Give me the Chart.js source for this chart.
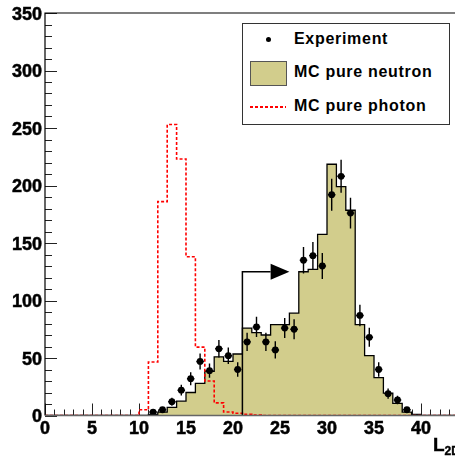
<!DOCTYPE html>
<html lang="en">
<head>
<meta charset="UTF-8">
<title>L2D distribution</title>
<script src="https://cdn.jsdelivr.net/npm/chart.js"></script>
<style>
  html, body { margin: 0; padding: 0; background: #fff; width: 455px; height: 462px; overflow: hidden; }
  body { font-family: 'Liberation Sans', Arial, Helvetica, sans-serif; }
  #wrap { position: relative; width: 480px; height: 462px; }
  #legend { position: absolute; left: 242px; top: 23px; width: 206px; height: 100px; border: 1px solid #333; background: #fff; }
  .item { position: absolute; left: 51px; height: 20px; line-height: 20px; font-size: 16px; letter-spacing: 0.7px; font-weight: bold; color: #000; white-space: nowrap; }
  .dot { position: absolute; left: 23px; top: 13px; width: 5px; height: 5px; border-radius: 50%; background: #000; }
  .swatch { position: absolute; left: 7px; top: 37px; width: 35px; height: 23px; background: #d2cd8c; border: 1px solid #555; }
  .dash { position: absolute; left: 7px; top: 82px; width: 36px; height: 1.5px; background: repeating-linear-gradient(to right, #ff0000 0 3px, transparent 3px 5px); }
  #xtitle { position: absolute; left: 433px; top: 434px; font-size: 19px; font-weight: bold; color: #000; -webkit-text-stroke: 0.4px #000; }
  #xtitle sub { font-size: 12px; vertical-align: -4px; }
  .tick { position: absolute; font-size: 18px; line-height: 18px; font-weight: bold; color: #000; white-space: nowrap; -webkit-text-stroke: 0.5px #000; }
  .ytick { width: 40px; text-align: right; }
  .xtick { width: 40px; text-align: center; }
</style>
</head>
<body>
<div id="wrap">
  <canvas id="histChart" width="480" height="462" style="width:480px;height:462px"></canvas>
  <div id="ticks"></div>
  <div id="legend">
    <div class="dot"></div>
    <div class="item" style="top:5px">Experiment</div>
    <div class="swatch"></div>
    <div class="item" style="top:38px">MC pure neutron</div>
    <div class="dash"></div>
    <div class="item" style="top:72px">MC pure photon</div>
  </div>
  <div id="xtitle">L<sub>2D</sub></div>
</div>

<script>
// bin low edges (width 1)
const binLow = [0, 1, 2, 3, 4, 5, 6, 7, 8, 9, 10, 11, 12, 13, 14, 15, 16, 17, 18, 19, 20, 21,
                22, 23, 24, 25, 26, 27, 28, 29, 30, 31, 32, 33, 34, 35, 36, 37, 38, 39, 40, 41, 42, 43, 44];

const mcNeutron = [0, 0, 0, 0, 0, 0, 0, 0, 0, 0, 0, 1, 3, 7, 12.5, 20, 28, 38.5, 51, 47, 53.5, 76,
                   72, 70, 79, 79, 89, 125, 127, 157.5, 218.5, 199, 178.5, 79, 52, 33, 19.5, 10.5, 3, 1, 0, 0, 0, 0, 0];

const mcPhoton = [0, 0, 0, 0, 0, 0, 0, 0, 0, 0, 5, 46.5, 186, 253, 223, 138, 59.5, 30, 11, 3, 2, 1,
                  0.5, 0, 0, 0, 0, 0, 0, 0, 0, 0, 0, 0, 0, 0, 0, 0, 0, 0, 0, 0, 0, 0, 0];

// experiment: bin centres, counts and errors
const expX = [11.5, 12.5, 13.5, 14.5, 15.5, 16.5, 17.5, 18.5, 19.5, 20.5, 21.5, 22.5, 23.5, 24.5,
              25.5, 26.5, 27.5, 28.5, 29.5, 30.5, 31.5, 32.5, 33.5, 34.5, 35.5, 36.5, 37.5, 38.5];
const expY = [3, 5, 12, 22, 32, 47, 39, 58, 52, 40, 64, 77, 64, 57,
              76, 75, 135, 139, 130, 192, 208, 176, 87, 68, 40, 19, 13.5, 5];
const expErr = [1.7, 2.2, 3.5, 4.7, 5.7, 6.9, 6.2, 7.6, 7.2, 6.3, 8, 8.8, 8, 7.5,
                8.7, 8.7, 11.6, 11.8, 11.4, 13.9, 14.4, 13.3, 9.3, 8.2, 6.3, 4.4, 3.7, 2.2];

// tick labels
const xTickLabels = [0, 5, 10, 15, 20, 25, 30, 35, 40];
const yTickLabels = [0, 50, 100, 150, 200, 250, 300, 350];

// selection cut arrow
const cutValue = 21;
const arrowLevel = 125;
const arrowShaftEnd = 24;
const arrowTip = 26;

function histPoints(values) {
    const pts = values.map((v, i) => ({ x: binLow[i], y: v }));
    pts.push({ x: binLow[binLow.length - 1] + 1, y: values[values.length - 1] });
    return pts;
}

const axisDecor = {
    id: 'axisDecor',
    beforeDatasetsDraw(chart) {
        const { ctx, chartArea: a, scales: { x, y } } = chart;
        ctx.save();
        ctx.strokeStyle = '#222';
        ctx.lineWidth = 1;
        for (let v = 0; v <= 350; v += 10) {
            const py = Math.round(y.getPixelForValue(v)) + 0.5;
            const len = v % 50 === 0 ? 12 : 7;
            ctx.beginPath(); ctx.moveTo(a.left, py); ctx.lineTo(a.left + len, py); ctx.stroke();
        }
        for (let v = 0; v <= 45; v += 1) {
            const px = Math.round(x.getPixelForValue(v)) + 0.5;
            const len = v % 5 === 0 ? 12 : 6;
            ctx.beginPath(); ctx.moveTo(px, a.bottom); ctx.lineTo(px, a.bottom - len); ctx.stroke();
        }
        ctx.restore();
    },
    afterDatasetsDraw(chart) {
        const { ctx, chartArea: a, scales: { x, y } } = chart;
        ctx.save();
        // error bars
        ctx.strokeStyle = '#000';
        ctx.lineWidth = 1.4;
        expX.forEach((cx, i) => {
            const px = x.getPixelForValue(cx);
            ctx.beginPath();
            ctx.moveTo(px, y.getPixelForValue(expY[i] - expErr[i]));
            ctx.lineTo(px, y.getPixelForValue(expY[i] + expErr[i]));
            ctx.moveTo(x.getPixelForValue(cx - 0.4), y.getPixelForValue(expY[i]));
            ctx.lineTo(x.getPixelForValue(cx + 0.4), y.getPixelForValue(expY[i]));
            ctx.stroke();
        });
        // cut arrow
        const cx = x.getPixelForValue(cutValue);
        const ay = y.getPixelForValue(arrowLevel);
        ctx.lineWidth = 1.5;
        ctx.beginPath();
        ctx.moveTo(cx, y.getPixelForValue(0));
        ctx.lineTo(cx, ay);
        ctx.lineTo(x.getPixelForValue(arrowShaftEnd), ay);
        ctx.stroke();
        ctx.fillStyle = '#000';
        ctx.beginPath();
        ctx.moveTo(x.getPixelForValue(arrowShaftEnd), ay - 8);
        ctx.lineTo(x.getPixelForValue(arrowTip), ay);
        ctx.lineTo(x.getPixelForValue(arrowShaftEnd), ay + 8);
        ctx.closePath();
        ctx.fill();
        // frame
        ctx.strokeStyle = '#000';
        ctx.lineWidth = 1.2;
        ctx.beginPath();
        ctx.moveTo(a.right + 20, a.top);
        ctx.lineTo(a.left, a.top);
        ctx.lineTo(a.left, a.bottom);
        ctx.stroke();
        ctx.strokeStyle = '#666';
        ctx.lineWidth = 1.5;
        ctx.beginPath();
        ctx.moveTo(a.left, a.bottom);
        ctx.lineTo(a.right + 20, a.bottom);
        ctx.stroke();
        ctx.restore();
    },
    // bold tick labels as text placed from the chart's own scales
    afterRender(chart) {
        const box = document.getElementById('ticks');
        if (box.childElementCount) return;
        const { chartArea: a, scales: { x, y } } = chart;
        yTickLabels.forEach(v => {
            const d = document.createElement('div');
            d.className = 'tick ytick';
            d.textContent = v;
            d.style.left = (a.left - 43) + 'px';
            d.style.top = (y.getPixelForValue(v) - 8.5) + 'px';
            box.appendChild(d);
        });
        xTickLabels.forEach(v => {
            const d = document.createElement('div');
            d.className = 'tick xtick';
            d.textContent = v;
            d.style.left = (x.getPixelForValue(v) - 20) + 'px';
            d.style.top = (a.bottom + 3.5) + 'px';
            box.appendChild(d);
        });
    }
};

const ctx = document.getElementById('histChart').getContext('2d');
const histChart = new Chart(ctx, {
    type: 'line',
    data: {
        datasets: [{
            label: 'Experiment',
            type: 'scatter',
            data: expX.map((v, i) => ({ x: v, y: expY[i] })),
            pointRadius: 3.4,
            pointBackgroundColor: '#000',
            pointBorderWidth: 0,
            showLine: false
        }, {
            label: 'MC pure photon',
            data: histPoints(mcPhoton),
            stepped: true,
            borderColor: '#ff0000',
            borderWidth: 1.6,
            borderDash: [3, 2],
            pointRadius: 0,
            fill: false
        }, {
            label: 'MC pure neutron',
            data: histPoints(mcNeutron),
            stepped: true,
            borderColor: '#000',
            borderWidth: 1.3,
            backgroundColor: '#d2cd8c',
            pointRadius: 0,
            fill: 'origin'
        }]
    },
    options: {
        responsive: false,
        animation: false,
        layout: { padding: { top: 13, right: 12, left: 0, bottom: 0 } },
        plugins: {
            legend: { display: false },
            tooltip: { enabled: false }
        },
        scales: {
            x: {
                type: 'linear',
                min: 0,
                max: 45,
                grid: { display: false, drawTicks: false },
                border: { display: false },
                ticks: { display: false, stepSize: 5 },
                afterFit: s => { s.height = 46.5; }
            },
            y: {
                min: 0,
                max: 350,
                grid: { display: false, drawTicks: false },
                border: { display: false },
                ticks: { display: false, stepSize: 50 },
                afterFit: s => { s.width = 45; }
            }
        }
    },
    plugins: [axisDecor]
});
</script>
</body>
</html>
